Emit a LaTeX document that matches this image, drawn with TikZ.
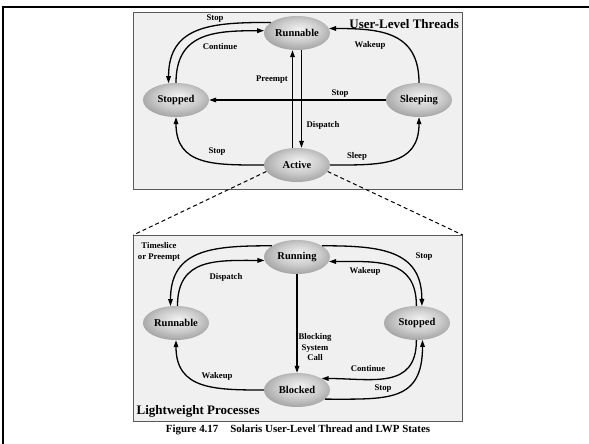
\documentclass[tikz,border=0pt]{standalone}
\usepackage{fontspec}
\setmainfont{Liberation Serif}
\usetikzlibrary{arrows.meta,shapes.geometric}

% soft grey ball look for the states, lit slightly above the centre
\pgfdeclareradialshading{stateshade}{\pgfpoint{2bp}{6bp}}{%
  color(0bp)=(black!5); color(16bp)=(black!20); color(34bp)=(black!44); color(50bp)=(black!68)}

\tikzset{
  state/.style={ellipse, minimum width=66pt, minimum height=34pt, inner sep=0pt,
    shade, shading=stateshade, font=\fontsize{10.5}{12}\selectfont\bfseries},
  trans/.style={line width=1.3pt, -{Triangle[length=7pt,width=4.6pt]}},
  squarish/.style={looseness=1.25},
  lbl/.style={font=\fontsize{8.7}{10.5}\selectfont\bfseries, inner sep=0pt, align=center},
  panel/.style={draw=black!65, line width=0.9pt, fill=black!6},
  paneltitle/.style={font=\fontsize{13}{15}\selectfont\bfseries, inner sep=0pt},
  zoomline/.style={line width=1pt, dash pattern=on 4pt off 3pt},
  pagerule/.style={line width=2.3pt, black},
}

\begin{document}
\begin{tikzpicture}[x=1pt, y=1pt]
  \useasboundingbox (0,0) rectangle (589,-444);

  % page rules
  \draw[pagerule] (1.9,-7) -- (589,-7);
  \draw[pagerule] (3,-5.9) -- (3,-444);

  % the two panels
  \draw[panel] (133.3,-12.7) rectangle (462.7,-189.3);
  \draw[panel] (133.3,-235) rectangle (462.7,-421.7);
  \coordinate (lwpNW) at (133.3,-235);
  \coordinate (lwpNE) at (462.7,-235);

  % user-level thread states
  \node[state] (run)   at (297,-33)  {Runnable};
  \node[state] (stopU) at (176,-100) {Stopped};
  \node[state] (sleep) at (419,-100) {Sleeping};
  \node[state] (act)   at (297,-165) {Active};
  \node[paneltitle, anchor=east] (ult) at (459,-24) {User-Level Threads};

  % lightweight process states
  \node[state] (running) at (297,-257) {Running};
  \node[state] (rnb)     at (176,-323) {Runnable};
  \node[state] (stopL)   at (417,-323) {Stopped};
  \node[state] (blk)     at (297,-390) {Blocked};
  \node[paneltitle, anchor=west] (lwp) at (136.5,-411.7) {Lightweight Processes};

  % zoom from Active to the LWP panel
  \draw[zoomline] (act.192) -- (lwpNW);
  \draw[zoomline] (act.-12) -- (lwpNE);

  % user-level transitions
  \draw[trans] (run.158) to[out=180,in=90,squarish] (stopU.114);
  \draw[trans] (stopU.north) to[out=90,in=180,squarish] (run.176);
  \draw[trans] (sleep.north) to[out=90,in=0,squarish] (run.8);
  \draw[trans] (sleep.west) -- (stopU.east);
  \draw[trans] ([xshift=-4.5pt]act.north) -- ([xshift=-4.5pt]run.south);
  \draw[trans] ([xshift=4.5pt]run.south) -- ([xshift=4.5pt]act.north);
  \draw[trans] (act.west) to[out=180,in=-90,squarish] (stopU.south);
  \draw[trans] (act.east) to[out=0,in=-90,squarish] (sleep.south);

  \node[lbl] (uStopA)  at (215,-19)  {Stop};
  \node[lbl] (uCont)   at (220,-47)  {Continue};
  \node[lbl] (uWake)   at (370,-45)  {Wakeup};
  \node[lbl] (uPre)    at (272,-80)  {Preempt};
  \node[lbl] (uStopB)  at (340,-94)  {Stop};
  \node[lbl] (uDisp)   at (323,-125) {Dispatch};
  \node[lbl] (uStopC)  at (217,-152) {Stop};
  \node[lbl] (uSleep)  at (357,-156) {Sleep};

  % LWP transitions
  \draw[trans] (running.156) to[out=180,in=90,squarish] (rnb.108);
  \draw[trans] (rnb.85) to[out=90,in=180,squarish] (running.186);
  \draw[trans] (running.24) to[out=0,in=90,squarish] (stopL.74);
  \draw[trans] (stopL.92) to[out=90,in=0,squarish] (running.-8);
  \draw[trans] (running.south) -- (blk.north);
  \draw[trans] (blk.west) to[out=180,in=-90,squarish] (rnb.south);
  \draw[trans] (stopL.268) to[out=-90,in=0,squarish] (blk.25);
  \draw[trans] (blk.-18) to[out=0,in=-90,looseness=1.4] (stopL.-72);

  \node[lbl] (lTime)  at (159,-251.7) {Timeslice\\or Preempt};
  \node[lbl] (lDisp)  at (226,-277)   {Dispatch};
  \node[lbl] (lStopA) at (424,-257)   {Stop};
  \node[lbl] (lWakeA) at (365,-271)   {Wakeup};
  \node[lbl] (lBlock) at (315,-347.5) {Blocking\\System\\Call};
  \node[lbl] (lWakeB) at (217,-376)   {Wakeup};
  \node[lbl] (lCont)  at (368,-369)   {Continue};
  \node[lbl] (lStopB) at (383,-389)   {Stop};

  % caption
  \node[font=\fontsize{10.9}{13}\selectfont\bfseries, inner sep=0pt] (cap) at (298,-430)
    {Figure 4.17\hspace{12pt}Solaris User-Level Thread and LWP States};
\end{tikzpicture}
\end{document}
